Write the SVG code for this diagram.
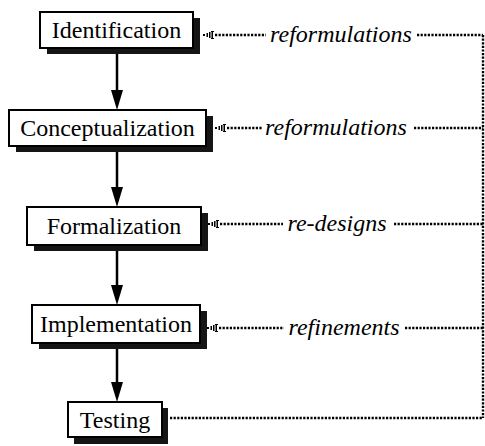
<svg xmlns="http://www.w3.org/2000/svg" width="485" height="446" viewBox="0 0 485 446">
<style>
.box{fill:#fff;stroke:#000;stroke-width:2}
.shadow{fill:#151515}
text{font-family:'Liberation Serif','Times New Roman','DejaVu Serif',serif;font-size:24px;text-anchor:middle;fill:#000}
.it{font-style:italic}
.flow{stroke:#000;stroke-width:2.5;fill:none}
.dot{stroke:#000;stroke-width:2.4;stroke-dasharray:2.2 1.4;fill:none}
</style>
<defs>
<g id="tick">
<rect x="0" y="-1" width="2" height="2" fill="#000"/>
<rect x="3.5" y="-2" width="1.5" height="4" fill="#000"/>
<rect x="6" y="-3" width="1.5" height="6" fill="#000"/>
<rect x="8.5" y="-4" width="1.5" height="8" fill="#000"/>
<rect x="8" y="-4" width="3" height="1" fill="#000"/>
<rect x="8" y="3" width="3" height="1" fill="#000"/>
</g>
<path id="head" d="M-6,-20 L6,-20 L0,0 Z" fill="#000"/>
</defs>

<g id="connectors">
<line class="flow" x1="117" y1="53" x2="117" y2="92"/>
<use href="#head" x="117" y="110"/>
<line class="flow" x1="117" y1="152" x2="117" y2="190"/>
<use href="#head" x="117" y="207"/>
<line class="flow" x1="117" y1="251" x2="117" y2="288"/>
<use href="#head" x="117" y="305"/>
<line class="flow" x1="117" y1="349" x2="117" y2="385"/>
<use href="#head" x="117" y="402"/>

<use href="#tick" x="203" y="35"/>
<line class="dot" x1="215" y1="35" x2="266" y2="35"/>
<line class="dot" x1="417" y1="35" x2="483" y2="35"/>
<use href="#tick" x="215" y="128"/>
<line class="dot" x1="227" y1="128" x2="262" y2="128"/>
<line class="dot" x1="414" y1="128" x2="483" y2="128"/>
<use href="#tick" x="208" y="224"/>
<line class="dot" x1="220" y1="224" x2="283" y2="224"/>
<line class="dot" x1="394" y1="224" x2="483" y2="224"/>
<use href="#tick" x="207" y="328"/>
<line class="dot" x1="219" y1="328" x2="284" y2="328"/>
<line class="dot" x1="405" y1="328" x2="483" y2="328"/>
<line class="dot" x1="170" y1="418" x2="483" y2="418"/>
<line class="dot" x1="483" y1="35" x2="483" y2="418"/>

<text class="it" x="341" y="42">reformulations</text>
<text class="it" x="336" y="135">reformulations</text>
<text class="it" x="337" y="231">re-designs</text>
<text class="it" x="344" y="335">refinements</text>
</g>

<g id="identification">
<rect class="shadow" x="47" y="18" width="153" height="36"/>
<rect class="box" x="40" y="12" width="153" height="36"/>
<text x="116.5" y="38">Identification</text>
</g>
<g id="conceptualization">
<rect class="shadow" x="16" y="116" width="197" height="36"/>
<rect class="box" x="9" y="110" width="197" height="36"/>
<text x="107.5" y="136">Conceptualization</text>
</g>
<g id="formalization">
<rect class="shadow" x="34" y="213" width="174" height="38"/>
<rect class="box" x="27" y="207" width="174" height="38"/>
<text x="114" y="234">Formalization</text>
</g>
<g id="implementation">
<rect class="shadow" x="39" y="311" width="168" height="38"/>
<rect class="box" x="32" y="305" width="168" height="38"/>
<text x="116" y="332">Implementation</text>
</g>
<g id="testing">
<rect class="shadow" x="74" y="408" width="94" height="36"/>
<rect class="box" x="68" y="402" width="94" height="35"/>
<text x="115" y="428">Testing</text>
</g>
</svg>
